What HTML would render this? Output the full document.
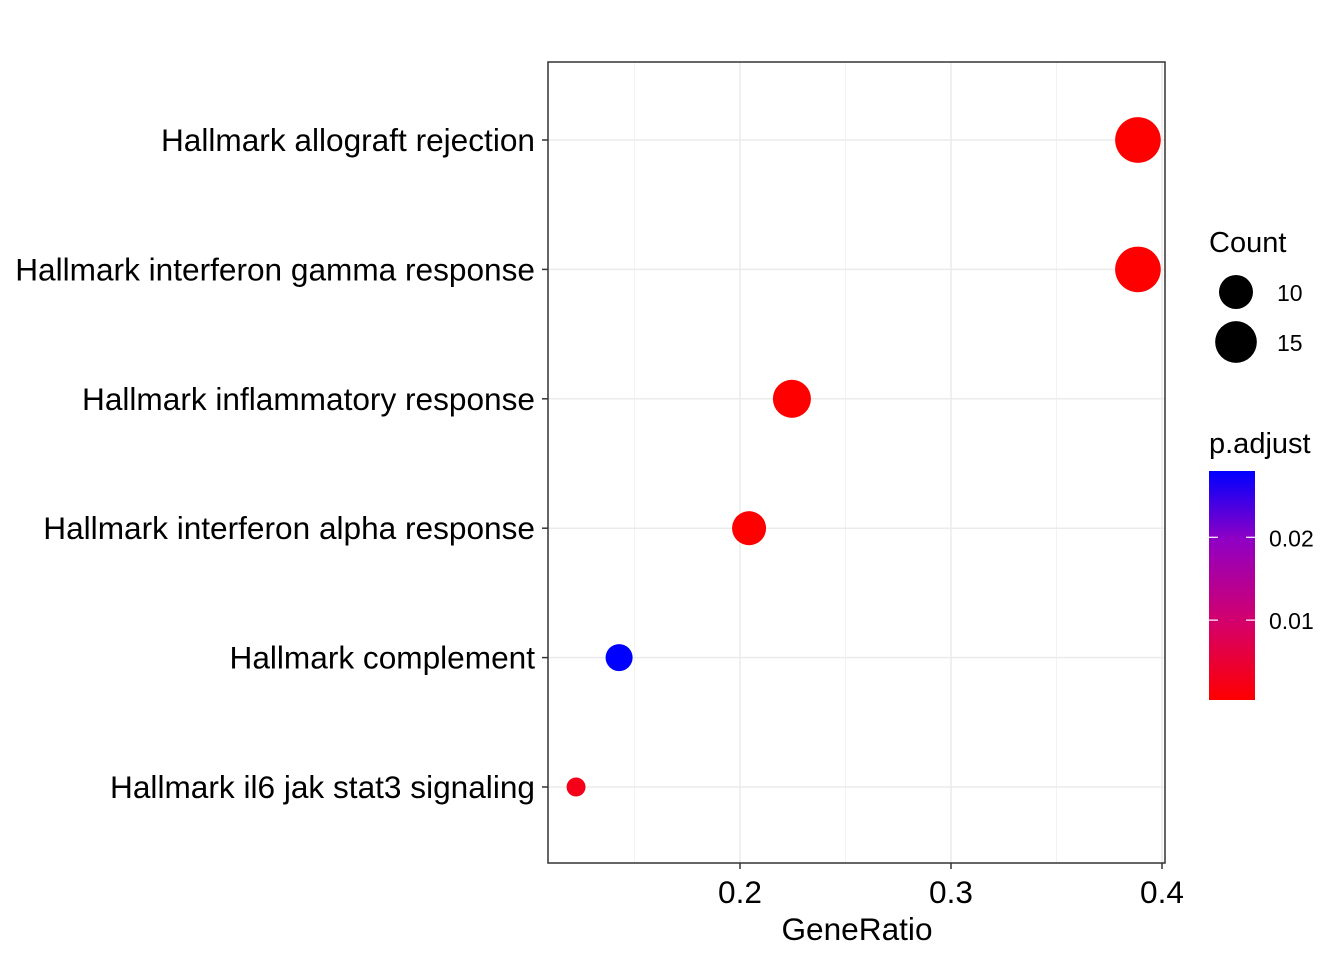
<!DOCTYPE html>
<html><head><meta charset="utf-8"><style>
html,body{margin:0;padding:0;background:#fff;}
svg{display:block;font-family:"Liberation Sans",sans-serif;}
</style></head><body>
<svg id="c" width="1344" height="960" xmlns="http://www.w3.org/2000/svg">
<defs><linearGradient id="pg" x1="0" y1="1" x2="0" y2="0">
<stop offset="0" stop-color="#FF0000"/><stop offset="0.35" stop-color="#D2006E"/><stop offset="0.7" stop-color="#9000C4"/><stop offset="1" stop-color="#0000FF"/>
</linearGradient></defs>
</svg>
<script>
const categories=["Hallmark allograft rejection","Hallmark interferon gamma response","Hallmark inflammatory response","Hallmark interferon alpha response","Hallmark complement","Hallmark il6 jak stat3 signaling"];
const geneRatio=[0.3886,0.3886,0.2246,0.2043,0.1427,0.1223];
const counts=[18,18,12.5,10,6.3,3.1];
const padjust=[0.0004,0.0004,0.0004,0.0004,0.028,0.0025];
const xTicks=[0.2,0.3,0.4];
const xMinor=[0.15,0.25,0.35];
const sizeBreaks=[10,15];
const colorBreaks=[0.01,0.02];
const NS="http://www.w3.org/2000/svg";
const svg=document.getElementById('c');
const L=548,R=1165,T=62,B=863;
const xs=v=>740+(v-0.2)*2110;
const ys=i=>140+i*129.4;
const rs=c=>5.38*Math.sqrt(c);
const cbTop=471,cbBot=700;
const pMin=0.00036,pMax=0.028;
const cy=p=>cbBot-(p-pMin)/(pMax-pMin)*(cbBot-cbTop);
const stops=[[0,[255,0,0]],[0.35,[210,0,110]],[0.7,[144,0,196]],[1,[0,0,255]]];
function col(p){let t=Math.max(0,Math.min(1,(p-pMin)/(pMax-pMin)));for(let i=1;i<stops.length;i++){if(t<=stops[i][0]){const a=stops[i-1],b=stops[i];const f=(t-a[0])/(b[0]-a[0]);return 'rgb('+a[1].map((v,k)=>Math.round(v+(b[1][k]-v)*f)).join(',')+')';}}return 'rgb(0,0,255)';}
function el(t,a){const e=document.createElementNS(NS,t);for(const k in a)e.setAttribute(k,a[k]);svg.appendChild(e);return e;}
xMinor.forEach(v=>{const e=el('line',{x1:xs(v),x2:xs(v),y1:T,y2:B,stroke:'#f2f2f2','stroke-width':1});

});
xTicks.forEach(v=>{const e=el('line',{x1:xs(v),x2:xs(v),y1:T,y2:B,stroke:'#ebebeb','stroke-width':1.5});

});
categories.forEach((c,i)=>{const e=el('line',{x1:L,x2:R,y1:ys(i),y2:ys(i),stroke:'#ebebeb','stroke-width':1.5});

});
categories.forEach((c,i)=>{
const d=el('circle',{cx:xs(geneRatio[i]),cy:ys(i),r:rs(counts[i]),fill:col(padjust[i])});


const tk=el('line',{x1:L-6,x2:L,y1:ys(i),y2:ys(i),stroke:'#333','stroke-width':1.5});


const t=el('text',{x:L-13,y:ys(i)+11,'text-anchor':'end','font-size':31.6,fill:'#000'});t.textContent=c;

});
const fr=el('rect',{x:L,y:T,width:R-L,height:B-T,fill:'none',stroke:'#333','stroke-width':1.5});


xTicks.forEach(v=>{const tk=el('line',{x1:xs(v),x2:xs(v),y1:B,y2:B+6,stroke:'#333','stroke-width':1.5});


const t=el('text',{x:xs(v),y:903,'text-anchor':'middle','font-size':31.6,fill:'#000'});t.textContent=v.toFixed(1);

});
const xt=el('text',{x:857,y:940,'text-anchor':'middle','font-size':31.6,fill:'#000'});xt.textContent='GeneRatio';


const st=el('text',{x:1209,y:252,'font-size':29,fill:'#000'});st.textContent='Count';


sizeBreaks.forEach((s,i)=>{const y=292+i*50;
const c=el('circle',{cx:1236,cy:y,r:rs(s),fill:'#000'});


const t=el('text',{x:1277,y:y+9,'font-size':23,fill:'#000'});t.textContent=s;

});
const ct=el('text',{x:1209,y:453,'font-size':29,fill:'#000'});ct.textContent='p.adjust';


const cb=el('rect',{x:1209,y:cbTop,width:46,height:cbBot-cbTop,fill:'url(#pg)'});


colorBreaks.forEach(p=>{const y=cy(p);
el('line',{x1:1209,x2:1218,y1:y,y2:y,stroke:'#fff','stroke-width':1.2});
el('line',{x1:1246,x2:1255,y1:y,y2:y,stroke:'#fff','stroke-width':1.2});
const t=el('text',{x:1269,y:y+9,'font-size':23,fill:'#000'});t.textContent=p.toFixed(2);

});
</script>
</body></html>
